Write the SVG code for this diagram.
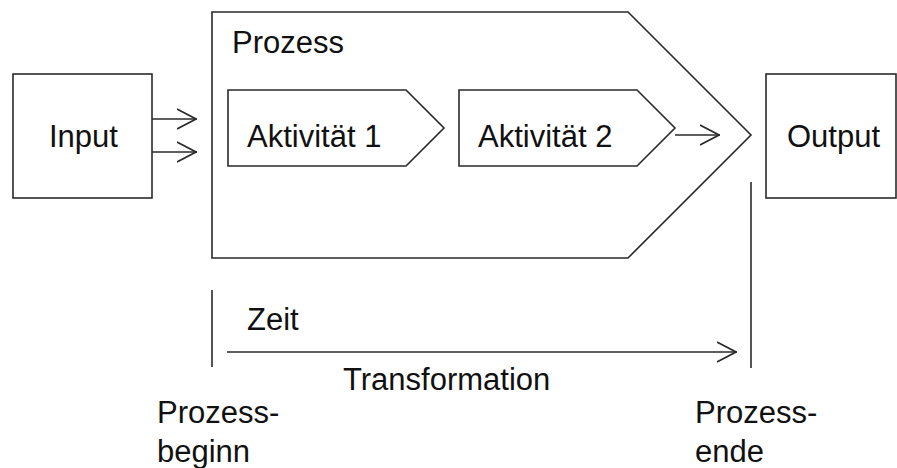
<svg xmlns="http://www.w3.org/2000/svg" width="897" height="468" viewBox="0 0 897 468">
<style>
.s{fill:none;stroke:#2a2a2a;stroke-width:1.6;stroke-linejoin:miter}
.b{fill:#fff;stroke:#2a2a2a;stroke-width:1.6}
text{font-family:"Liberation Sans",Arial,sans-serif;font-size:31px;fill:#111}
</style>
<defs>
<marker id="ah" viewBox="0 0 20 22" refX="20" refY="11" markerWidth="20" markerHeight="22" markerUnits="userSpaceOnUse" orient="auto">
<path d="M0,1 L19,11 L0,21" fill="none" stroke="#2a2a2a" stroke-width="1.6"/>
</marker>
</defs>
<rect width="897" height="468" fill="#fff"/>
<g id="prozess">
<path class="b" d="M212,12 H628 L751,135 L628,258 H212 Z"/>
<text x="232" y="53">Prozess</text>
</g>
<g id="input">
<rect class="b" x="13" y="74" width="139" height="124"/>
<text x="49" y="147">Input</text>
</g>
<g id="output">
<rect class="b" x="766" y="74" width="130" height="124"/>
<text x="787" y="147">Output</text>
</g>
<g id="aktivitaet1">
<path class="b" d="M228,90 H406 L444,128 L406,166 H228 Z"/>
<text x="247" y="147">Aktivität 1</text>
</g>
<g id="aktivitaet2">
<path class="b" d="M459,90 H637 L675,128 L637,166 H459 Z"/>
<text x="478" y="147">Aktivität 2</text>
</g>
<g id="connectors">
<line class="s" x1="152" y1="119" x2="197" y2="119" marker-end="url(#ah)"/>
<line class="s" x1="152" y1="152" x2="197" y2="152" marker-end="url(#ah)"/>
<line class="s" x1="675" y1="135" x2="720" y2="135" marker-end="url(#ah)"/>
<line class="s" x1="227" y1="352" x2="737" y2="352" marker-end="url(#ah)"/>
<line class="s" x1="212" y1="290" x2="212" y2="367"/>
<line class="s" x1="751" y1="182" x2="751" y2="368"/>
</g>
<g id="labels">
<text x="247" y="330">Zeit</text>
<text x="343" y="390">Transformation</text>
<text x="157" y="423">Prozess-</text>
<text x="157" y="462">beginn</text>
<text x="695" y="423">Prozess-</text>
<text x="695" y="462">ende</text>
</g>
</svg>
